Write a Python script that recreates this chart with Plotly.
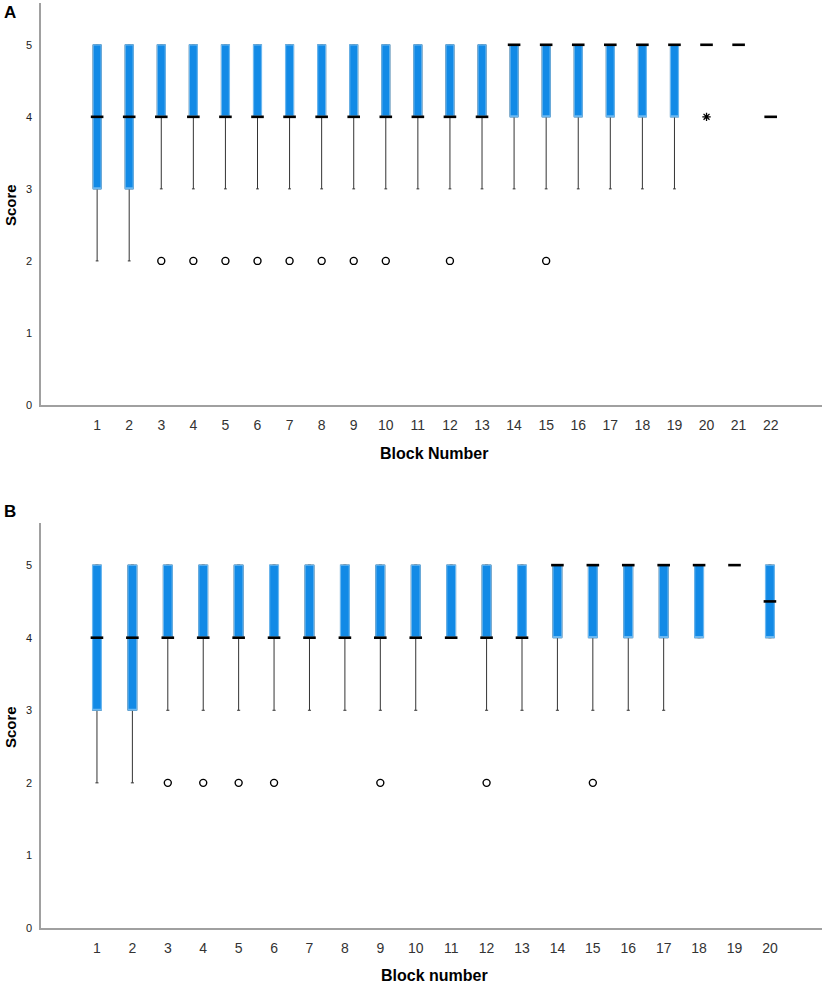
import plotly.graph_objects as go

# Panel A
blocks_a = list(range(1, 23))
q1_a = [3, 3, 4, 4, 4, 4, 4, 4, 4, 4, 4, 4, 4, 4, 4, 4, 4, 4, 4, 5, 5, 4]
med_a = [4, 4, 4, 4, 4, 4, 4, 4, 4, 4, 4, 4, 4, 5, 5, 5, 5, 5, 5, 5, 5, 4]
q3_a = [5, 5, 5, 5, 5, 5, 5, 5, 5, 5, 5, 5, 5, 5, 5, 5, 5, 5, 5, 5, 5, 4]
lo_a = [2, 2, 3, 3, 3, 3, 3, 3, 3, 3, 3, 3, 3, 3, 3, 3, 3, 3, 3, 5, 5, 4]
hi_a = q3_a
out_x_a = [3, 4, 5, 6, 7, 8, 9, 10, 12, 15]
out_y_a = [2, 2, 2, 2, 2, 2, 2, 2, 2, 2]
ext_x_a = [20]
ext_y_a = [4]

# Panel B
blocks_b = list(range(1, 21))
q1_b = [3, 3, 4, 4, 4, 4, 4, 4, 4, 4, 4, 4, 4, 4, 4, 4, 4, 4, 5, 4]
med_b = [4, 4, 4, 4, 4, 4, 4, 4, 4, 4, 4, 4, 4, 5, 5, 5, 5, 5, 5, 4.5]
q3_b = [5] * 20
lo_b = [2, 2, 3, 3, 3, 3, 3, 3, 3, 3, 4, 3, 3, 3, 3, 3, 3, 4, 5, 4]
hi_b = q3_b
out_x_b = [3, 4, 5, 6, 9, 12, 15]
out_y_b = [2, 2, 2, 2, 2, 2, 2]

BLUE = "#128ae6"
EDGE = "#6cb8f0"
AXIS = "#a0a0a0"

fig = go.Figure()


def add_panel(fig, xs, q1, med, q3, lo, hi, ox, oy, xa, ya):
    # whiskers (black); their box outline ends up under the blue box
    fig.add_trace(go.Box(x=xs, q1=q1, median=med, q3=q3, lowerfence=lo, upperfence=hi,
                         width=0.25, whiskerwidth=0.35, fillcolor="rgba(0,0,0,0)",
                         line=dict(color="#333333", width=1), boxpoints=False,
                         xaxis=xa, yaxis=ya, showlegend=False, hoverinfo="skip"))
    # blue box
    fig.add_trace(go.Box(x=xs, q1=q1, median=q1, q3=q3, lowerfence=q1, upperfence=q3,
                         width=0.25, whiskerwidth=0, fillcolor=BLUE,
                         line=dict(color=EDGE, width=1.2), boxpoints=False,
                         xaxis=xa, yaxis=ya, showlegend=False))
    # medians
    fig.add_trace(go.Scatter(x=xs, y=med, mode="markers", xaxis=xa, yaxis=ya,
                             marker=dict(symbol="line-ew", size=9,
                                         line=dict(color="black", width=2.6)),
                             showlegend=False))
    # outliers
    fig.add_trace(go.Scatter(x=ox, y=oy, mode="markers", xaxis=xa, yaxis=ya,
                             marker=dict(symbol="circle-open", size=7, color="black",
                                         line=dict(color="black", width=1.4)),
                             showlegend=False))


add_panel(fig, blocks_a, q1_a, med_a, q3_a, lo_a, hi_a, out_x_a, out_y_a, "x", "y")
# extreme value
fig.add_trace(go.Scatter(x=ext_x_a, y=ext_y_a, mode="markers", showlegend=False,
                         marker=dict(symbol="asterisk-open", size=7, color="black",
                                     line=dict(color="black", width=1.3))))
add_panel(fig, blocks_b, q1_b, med_b, q3_b, lo_b, hi_b, out_x_b, out_y_b, "x2", "y2")

tickfont_x = dict(family="Liberation Sans, Arial", size=14, color="#333333")
tickfont_y = dict(family="Liberation Sans, Arial", size=11, color="#222222")

common_x = dict(showline=True, linecolor=AXIS, linewidth=1.5, showgrid=False,
                zeroline=False, ticks="", tickfont=tickfont_x, ticklabelstandoff=6)
common_y = dict(showline=True, linecolor=AXIS, linewidth=1.5, showgrid=False,
                zeroline=False, ticks="", tickfont=tickfont_y, range=[0, 5.58],
                tickvals=[0, 1, 2, 3, 4, 5], ticklabelstandoff=5)

W, H = 829, 983
L, R, T, B = 41, 7, 3, 55

fig.update_layout(
    width=W, height=H,
    margin=dict(l=L, r=R, t=T, b=B),
    plot_bgcolor="white", paper_bgcolor="white",
    boxmode="overlay",
    xaxis=dict(common_x, range=[-0.75, 23.6], tickvals=blocks_a, anchor="y"),
    yaxis=dict(common_y, domain=[0.5654, 1], anchor="x"),
    xaxis2=dict(common_x, range=[-0.58, 21.47], tickvals=blocks_b, anchor="y2"),
    yaxis2=dict(common_y, domain=[0, 0.4378], anchor="x2"),
)

title_font = dict(family="Liberation Sans, Arial", size=16, color="black")
score_font = dict(family="Liberation Sans, Arial", size=15, color="black")
letter_font = dict(family="Liberation Sans, Arial", size=17, color="black")

annots = [
    ("<b>A</b>", 10, 12, letter_font, 0),
    ("<b>B</b>", 10, 512, letter_font, 0),
    ("<b>Score</b>", 10, 205, score_font, -90),
    ("<b>Score</b>", 10, 727, score_font, -90),
    ("<b>Block Number</b>", 434, 453, title_font, 0),
    ("<b>Block number</b>", 434, 976, title_font, 0),
]
plot_w = W - L - R
plot_h = H - T - B
for text, px_, py_, font, angle in annots:
    fig.add_annotation(text=text, xref="paper", yref="paper",
                       x=(px_ - L) / plot_w, y=(H - B - py_) / plot_h,
                       xanchor="center", yanchor="middle", showarrow=False,
                       font=font, textangle=angle)

fig.write_html("out.html", config={"displayModeBar": False},
               post_script="document.body.style.margin='0px';")
